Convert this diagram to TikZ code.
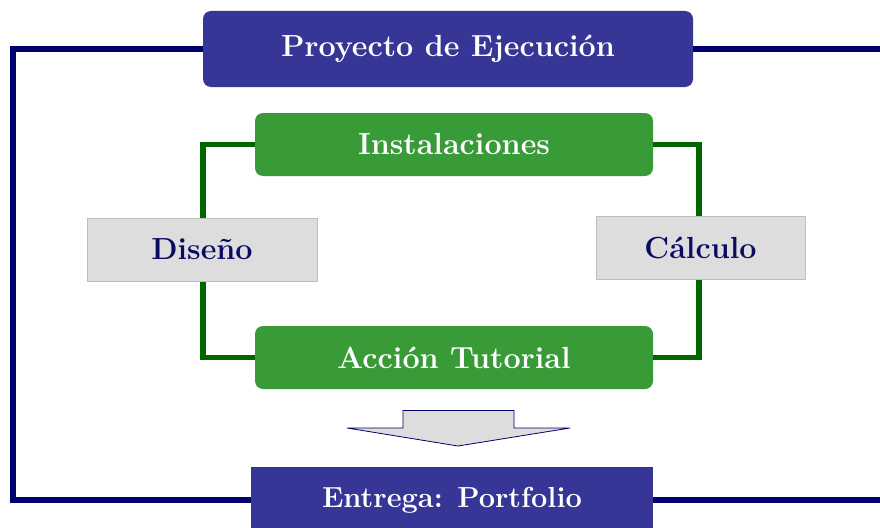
\documentclass[tikz,border=0pt]{standalone}
\usetikzlibrary{shapes,arrows,positioning,calc}
\definecolor{boxblue}{RGB}{54,54,150}
\definecolor{lineblue}{RGB}{0,0,110}
\definecolor{boxgreen}{RGB}{56,155,56}
\definecolor{linegreen}{RGB}{0,102,0}
\definecolor{boxgray}{RGB}{221,221,221}
\definecolor{edgegray}{RGB}{190,190,190}
\definecolor{textnavy}{RGB}{10,10,100}
\def\labelfont{\fontsize{30.5}{35}\selectfont\bfseries}
\def\greenrowwidth{398pt}

\begin{document}
\begin{tikzpicture}[x=1pt,y=-1pt,
    bluebox/.style={fill=boxblue, text=white, font=\labelfont, inner sep=0pt},
    greenbox/.style={fill=boxgreen, text=white, font=\labelfont, inner sep=0pt,
      rounded corners=8pt, minimum width=\greenrowwidth, minimum height=63pt},
    graybox/.style={fill=boxgray, draw=edgegray, line width=1pt, text=textnavy,
      font=\labelfont, inner sep=0pt, minimum height=63pt},
    blueline/.style={draw=lineblue, line width=6.5pt},
    greenline/.style={draw=linegreen, line width=5.5pt}
  ]
  \useasboundingbox (0,0) rectangle (880,527);

  \coordinate (TopRight) at (885,49);
  \coordinate (BotLeftCorner) at (13,500);

  \node[bluebox, rounded corners=8pt, minimum width=490pt, minimum height=76pt]
    (proyecto) at (448,49) {Proyecto de Ejecución};
  \node[bluebox, minimum width=402pt, minimum height=66pt,
        font=\fontsize{29}{34}\selectfont\bfseries]
    (entrega) at (452,500) {Entrega: Portfolio};

  \node[greenbox] (instalaciones) at (454,144.5) {Instalaciones};
  \node[greenbox] (accion) at (454,357.5) {Acción Tutorial};

  \node[graybox, minimum width=230pt] (diseno) at (202,249.5) {Diseño};
  \node[graybox, minimum width=209pt] (calculo) at (700.5,247.5) {Cálculo};

  % outer blue loop
  \draw[blueline] (proyecto.west) -| (BotLeftCorner) -- (entrega.west);
  \draw[blueline] (proyecto.east) -- (TopRight);
  \draw[blueline] (entrega.east) -- ++(235,0) coordinate (BotRight);

  % inner green loop
  \draw[greenline] (instalaciones.west) -| ($ (diseno.north) + (1,0) $);
  \draw[greenline] ($ (diseno.south) + (1,0) $) |- (accion.west);
  \draw[greenline] (instalaciones.east) -| ($ (calculo.north) + (-1.5,0) $);
  \draw[greenline] ($ (calculo.south) + (-1.5,0) $) |- (accion.east);

  % down arrow
  \draw[fill=boxgray, draw=lineblue, line width=0.8pt, line join=miter]
    (403,410.5) -- (514,410.5) -- (514,428) -- (570,428) -- (458,446)
    -- (347,428) -- (403,428) -- cycle;
\end{tikzpicture}
\end{document}
